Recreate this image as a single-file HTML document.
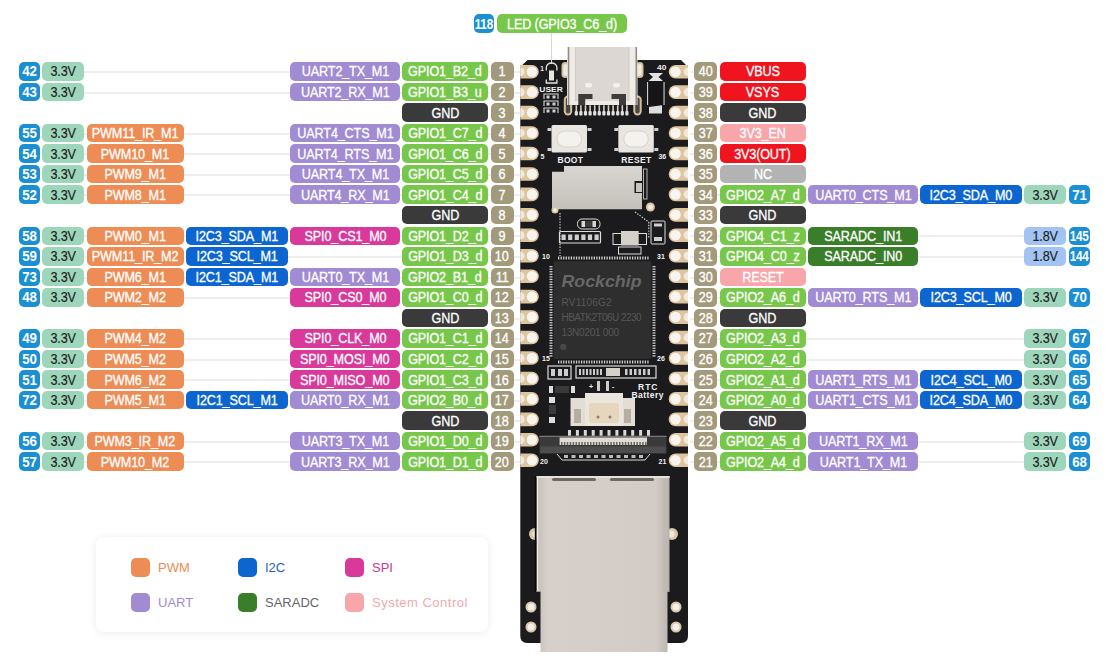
<!DOCTYPE html>
<html><head><meta charset="utf-8"><style>
html,body{margin:0;padding:0;background:#fff;}
body{width:1107px;height:668px;position:relative;overflow:hidden;font-family:"Liberation Sans",sans-serif;}
.b{position:absolute;height:18.5px;border-radius:5px;display:flex;align-items:center;justify-content:center;font-size:14px;white-space:nowrap;letter-spacing:-0.15px;-webkit-text-stroke:0.3px currentColor;}
.b span{display:block;line-height:1;transform:translateY(0px) scaleX(0.9);}
.n{letter-spacing:-0.3px;font-weight:bold;-webkit-text-stroke:0;}
.n span{transform:scaleX(0.84);}
.n2 span{transform:scaleX(0.95);}
.dk{-webkit-text-stroke:0.15px currentColor;}
.ln{position:absolute;height:2px;background:#eeeeee;}
.lg{position:absolute;left:96px;top:537px;width:392px;height:95px;background:#fff;border-radius:8px;box-shadow:0 1px 8px rgba(0,0,0,0.08);}
.sw{position:absolute;width:19px;height:19px;border-radius:5px;}
.lt{position:absolute;font-size:13px;line-height:19px;}
</style></head><body>
<div class="ln" style="left:84px;top:71.15px;width:436.0px"></div>
<div class="b n n2" style="left:19px;top:62.2px;width:21.0px;background:#1a8fd3;color:#fff"><span>42</span></div>
<div class="b  dk" style="left:42px;top:62.2px;width:42.0px;background:#9dd6bb;color:#1d1d1d"><span>3.3V</span></div>
<div class="b " style="left:290px;top:62.2px;width:110.0px;background:#a18bd2;color:#fff"><span>UART2_TX_M1</span></div>
<div class="b " style="left:402px;top:62.2px;width:86.0px;background:#77c84a;color:#fff"><span>GPIO1_B2_d</span></div>
<div class="b p" style="left:490.5px;top:62.2px;width:23.0px;background:#a39a7b;color:#fff"><span>1</span></div>
<div class="ln" style="left:84px;top:91.69px;width:436.0px"></div>
<div class="b n n2" style="left:19px;top:82.74000000000001px;width:21.0px;background:#1a8fd3;color:#fff"><span>43</span></div>
<div class="b  dk" style="left:42px;top:82.74000000000001px;width:42.0px;background:#9dd6bb;color:#1d1d1d"><span>3.3V</span></div>
<div class="b " style="left:290px;top:82.74000000000001px;width:110.0px;background:#a18bd2;color:#fff"><span>UART2_RX_M1</span></div>
<div class="b " style="left:402px;top:82.74000000000001px;width:86.0px;background:#77c84a;color:#fff"><span>GPIO1_B3_u</span></div>
<div class="b p" style="left:490.5px;top:82.74000000000001px;width:23.0px;background:#a39a7b;color:#fff"><span>2</span></div>
<div class="ln" style="left:513.5px;top:112.23px;width:6.5px"></div>
<div class="b " style="left:402px;top:103.28px;width:86.0px;background:#3a3a3a;color:#fff"><span>GND</span></div>
<div class="b p" style="left:490.5px;top:103.28px;width:23.0px;background:#a39a7b;color:#fff"><span>3</span></div>
<div class="ln" style="left:84px;top:132.77px;width:436.0px"></div>
<div class="b n n2" style="left:19px;top:123.82px;width:21.0px;background:#1a8fd3;color:#fff"><span>55</span></div>
<div class="b  dk" style="left:42px;top:123.82px;width:42.0px;background:#9dd6bb;color:#1d1d1d"><span>3.3V</span></div>
<div class="b " style="left:86.5px;top:123.82px;width:97.5px;background:#ee8c55;color:#fff"><span>PWM11_IR_M1</span></div>
<div class="b " style="left:290px;top:123.82px;width:110.0px;background:#a18bd2;color:#fff"><span>UART4_CTS_M1</span></div>
<div class="b " style="left:402px;top:123.82px;width:86.0px;background:#77c84a;color:#fff"><span>GPIO1_C7_d</span></div>
<div class="b p" style="left:490.5px;top:123.82px;width:23.0px;background:#a39a7b;color:#fff"><span>4</span></div>
<div class="ln" style="left:84px;top:153.31px;width:436.0px"></div>
<div class="b n n2" style="left:19px;top:144.36px;width:21.0px;background:#1a8fd3;color:#fff"><span>54</span></div>
<div class="b  dk" style="left:42px;top:144.36px;width:42.0px;background:#9dd6bb;color:#1d1d1d"><span>3.3V</span></div>
<div class="b " style="left:86.5px;top:144.36px;width:97.5px;background:#ee8c55;color:#fff"><span>PWM10_M1</span></div>
<div class="b " style="left:290px;top:144.36px;width:110.0px;background:#a18bd2;color:#fff"><span>UART4_RTS_M1</span></div>
<div class="b " style="left:402px;top:144.36px;width:86.0px;background:#77c84a;color:#fff"><span>GPIO1_C6_d</span></div>
<div class="b p" style="left:490.5px;top:144.36px;width:23.0px;background:#a39a7b;color:#fff"><span>5</span></div>
<div class="ln" style="left:84px;top:173.85px;width:436.0px"></div>
<div class="b n n2" style="left:19px;top:164.89999999999998px;width:21.0px;background:#1a8fd3;color:#fff"><span>53</span></div>
<div class="b  dk" style="left:42px;top:164.89999999999998px;width:42.0px;background:#9dd6bb;color:#1d1d1d"><span>3.3V</span></div>
<div class="b " style="left:86.5px;top:164.89999999999998px;width:97.5px;background:#ee8c55;color:#fff"><span>PWM9_M1</span></div>
<div class="b " style="left:290px;top:164.89999999999998px;width:110.0px;background:#a18bd2;color:#fff"><span>UART4_TX_M1</span></div>
<div class="b " style="left:402px;top:164.89999999999998px;width:86.0px;background:#77c84a;color:#fff"><span>GPIO1_C5_d</span></div>
<div class="b p" style="left:490.5px;top:164.89999999999998px;width:23.0px;background:#a39a7b;color:#fff"><span>6</span></div>
<div class="ln" style="left:84px;top:194.39px;width:436.0px"></div>
<div class="b n n2" style="left:19px;top:185.44px;width:21.0px;background:#1a8fd3;color:#fff"><span>52</span></div>
<div class="b  dk" style="left:42px;top:185.44px;width:42.0px;background:#9dd6bb;color:#1d1d1d"><span>3.3V</span></div>
<div class="b " style="left:86.5px;top:185.44px;width:97.5px;background:#ee8c55;color:#fff"><span>PWM8_M1</span></div>
<div class="b " style="left:290px;top:185.44px;width:110.0px;background:#a18bd2;color:#fff"><span>UART4_RX_M1</span></div>
<div class="b " style="left:402px;top:185.44px;width:86.0px;background:#77c84a;color:#fff"><span>GPIO1_C4_d</span></div>
<div class="b p" style="left:490.5px;top:185.44px;width:23.0px;background:#a39a7b;color:#fff"><span>7</span></div>
<div class="ln" style="left:513.5px;top:214.93px;width:6.5px"></div>
<div class="b " style="left:402px;top:205.98000000000002px;width:86.0px;background:#3a3a3a;color:#fff"><span>GND</span></div>
<div class="b p" style="left:490.5px;top:205.98000000000002px;width:23.0px;background:#a39a7b;color:#fff"><span>8</span></div>
<div class="ln" style="left:84px;top:235.47px;width:436.0px"></div>
<div class="b n n2" style="left:19px;top:226.51999999999998px;width:21.0px;background:#1a8fd3;color:#fff"><span>58</span></div>
<div class="b  dk" style="left:42px;top:226.51999999999998px;width:42.0px;background:#9dd6bb;color:#1d1d1d"><span>3.3V</span></div>
<div class="b " style="left:86.5px;top:226.51999999999998px;width:97.5px;background:#ee8c55;color:#fff"><span>PWM0_M1</span></div>
<div class="b " style="left:186px;top:226.51999999999998px;width:102.0px;background:#0d66d0;color:#fff"><span>I2C3_SDA_M1</span></div>
<div class="b " style="left:290px;top:226.51999999999998px;width:110.0px;background:#d8399a;color:#fff"><span>SPI0_CS1_M0</span></div>
<div class="b " style="left:402px;top:226.51999999999998px;width:86.0px;background:#77c84a;color:#fff"><span>GPIO1_D2_d</span></div>
<div class="b p" style="left:490.5px;top:226.51999999999998px;width:23.0px;background:#a39a7b;color:#fff"><span>9</span></div>
<div class="ln" style="left:84px;top:256.01px;width:436.0px"></div>
<div class="b n n2" style="left:19px;top:247.06px;width:21.0px;background:#1a8fd3;color:#fff"><span>59</span></div>
<div class="b  dk" style="left:42px;top:247.06px;width:42.0px;background:#9dd6bb;color:#1d1d1d"><span>3.3V</span></div>
<div class="b " style="left:86.5px;top:247.06px;width:97.5px;background:#ee8c55;color:#fff"><span>PWM11_IR_M2</span></div>
<div class="b " style="left:186px;top:247.06px;width:102.0px;background:#0d66d0;color:#fff"><span>I2C3_SCL_M1</span></div>
<div class="b " style="left:402px;top:247.06px;width:86.0px;background:#77c84a;color:#fff"><span>GPIO1_D3_d</span></div>
<div class="b p" style="left:490.5px;top:247.06px;width:23.0px;background:#a39a7b;color:#fff"><span>10</span></div>
<div class="ln" style="left:84px;top:276.55px;width:436.0px"></div>
<div class="b n n2" style="left:19px;top:267.59999999999997px;width:21.0px;background:#1a8fd3;color:#fff"><span>73</span></div>
<div class="b  dk" style="left:42px;top:267.59999999999997px;width:42.0px;background:#9dd6bb;color:#1d1d1d"><span>3.3V</span></div>
<div class="b " style="left:86.5px;top:267.59999999999997px;width:97.5px;background:#ee8c55;color:#fff"><span>PWM6_M1</span></div>
<div class="b " style="left:186px;top:267.59999999999997px;width:102.0px;background:#0d66d0;color:#fff"><span>I2C1_SDA_M1</span></div>
<div class="b " style="left:290px;top:267.59999999999997px;width:110.0px;background:#a18bd2;color:#fff"><span>UART0_TX_M1</span></div>
<div class="b " style="left:402px;top:267.59999999999997px;width:86.0px;background:#77c84a;color:#fff"><span>GPIO2_B1_d</span></div>
<div class="b p" style="left:490.5px;top:267.59999999999997px;width:23.0px;background:#a39a7b;color:#fff"><span>11</span></div>
<div class="ln" style="left:84px;top:297.09px;width:436.0px"></div>
<div class="b n n2" style="left:19px;top:288.14px;width:21.0px;background:#1a8fd3;color:#fff"><span>48</span></div>
<div class="b  dk" style="left:42px;top:288.14px;width:42.0px;background:#9dd6bb;color:#1d1d1d"><span>3.3V</span></div>
<div class="b " style="left:86.5px;top:288.14px;width:97.5px;background:#ee8c55;color:#fff"><span>PWM2_M2</span></div>
<div class="b " style="left:290px;top:288.14px;width:110.0px;background:#d8399a;color:#fff"><span>SPI0_CS0_M0</span></div>
<div class="b " style="left:402px;top:288.14px;width:86.0px;background:#77c84a;color:#fff"><span>GPIO1_C0_d</span></div>
<div class="b p" style="left:490.5px;top:288.14px;width:23.0px;background:#a39a7b;color:#fff"><span>12</span></div>
<div class="ln" style="left:513.5px;top:317.63px;width:6.5px"></div>
<div class="b " style="left:402px;top:308.68px;width:86.0px;background:#3a3a3a;color:#fff"><span>GND</span></div>
<div class="b p" style="left:490.5px;top:308.68px;width:23.0px;background:#a39a7b;color:#fff"><span>13</span></div>
<div class="ln" style="left:84px;top:338.17px;width:436.0px"></div>
<div class="b n n2" style="left:19px;top:329.21999999999997px;width:21.0px;background:#1a8fd3;color:#fff"><span>49</span></div>
<div class="b  dk" style="left:42px;top:329.21999999999997px;width:42.0px;background:#9dd6bb;color:#1d1d1d"><span>3.3V</span></div>
<div class="b " style="left:86.5px;top:329.21999999999997px;width:97.5px;background:#ee8c55;color:#fff"><span>PWM4_M2</span></div>
<div class="b " style="left:290px;top:329.21999999999997px;width:110.0px;background:#d8399a;color:#fff"><span>SPI0_CLK_M0</span></div>
<div class="b " style="left:402px;top:329.21999999999997px;width:86.0px;background:#77c84a;color:#fff"><span>GPIO1_C1_d</span></div>
<div class="b p" style="left:490.5px;top:329.21999999999997px;width:23.0px;background:#a39a7b;color:#fff"><span>14</span></div>
<div class="ln" style="left:84px;top:358.71px;width:436.0px"></div>
<div class="b n n2" style="left:19px;top:349.76px;width:21.0px;background:#1a8fd3;color:#fff"><span>50</span></div>
<div class="b  dk" style="left:42px;top:349.76px;width:42.0px;background:#9dd6bb;color:#1d1d1d"><span>3.3V</span></div>
<div class="b " style="left:86.5px;top:349.76px;width:97.5px;background:#ee8c55;color:#fff"><span>PWM5_M2</span></div>
<div class="b " style="left:290px;top:349.76px;width:110.0px;background:#d8399a;color:#fff"><span>SPI0_MOSI_M0</span></div>
<div class="b " style="left:402px;top:349.76px;width:86.0px;background:#77c84a;color:#fff"><span>GPIO1_C2_d</span></div>
<div class="b p" style="left:490.5px;top:349.76px;width:23.0px;background:#a39a7b;color:#fff"><span>15</span></div>
<div class="ln" style="left:84px;top:379.25px;width:436.0px"></div>
<div class="b n n2" style="left:19px;top:370.29999999999995px;width:21.0px;background:#1a8fd3;color:#fff"><span>51</span></div>
<div class="b  dk" style="left:42px;top:370.29999999999995px;width:42.0px;background:#9dd6bb;color:#1d1d1d"><span>3.3V</span></div>
<div class="b " style="left:86.5px;top:370.29999999999995px;width:97.5px;background:#ee8c55;color:#fff"><span>PWM6_M2</span></div>
<div class="b " style="left:290px;top:370.29999999999995px;width:110.0px;background:#d8399a;color:#fff"><span>SPI0_MISO_M0</span></div>
<div class="b " style="left:402px;top:370.29999999999995px;width:86.0px;background:#77c84a;color:#fff"><span>GPIO1_C3_d</span></div>
<div class="b p" style="left:490.5px;top:370.29999999999995px;width:23.0px;background:#a39a7b;color:#fff"><span>16</span></div>
<div class="ln" style="left:84px;top:399.79px;width:436.0px"></div>
<div class="b n n2" style="left:19px;top:390.84px;width:21.0px;background:#1a8fd3;color:#fff"><span>72</span></div>
<div class="b  dk" style="left:42px;top:390.84px;width:42.0px;background:#9dd6bb;color:#1d1d1d"><span>3.3V</span></div>
<div class="b " style="left:86.5px;top:390.84px;width:97.5px;background:#ee8c55;color:#fff"><span>PWM5_M1</span></div>
<div class="b " style="left:186px;top:390.84px;width:102.0px;background:#0d66d0;color:#fff"><span>I2C1_SCL_M1</span></div>
<div class="b " style="left:290px;top:390.84px;width:110.0px;background:#a18bd2;color:#fff"><span>UART0_RX_M1</span></div>
<div class="b " style="left:402px;top:390.84px;width:86.0px;background:#77c84a;color:#fff"><span>GPIO2_B0_d</span></div>
<div class="b p" style="left:490.5px;top:390.84px;width:23.0px;background:#a39a7b;color:#fff"><span>17</span></div>
<div class="ln" style="left:513.5px;top:420.33px;width:6.5px"></div>
<div class="b " style="left:402px;top:411.38px;width:86.0px;background:#3a3a3a;color:#fff"><span>GND</span></div>
<div class="b p" style="left:490.5px;top:411.38px;width:23.0px;background:#a39a7b;color:#fff"><span>18</span></div>
<div class="ln" style="left:84px;top:440.87px;width:436.0px"></div>
<div class="b n n2" style="left:19px;top:431.91999999999996px;width:21.0px;background:#1a8fd3;color:#fff"><span>56</span></div>
<div class="b  dk" style="left:42px;top:431.91999999999996px;width:42.0px;background:#9dd6bb;color:#1d1d1d"><span>3.3V</span></div>
<div class="b " style="left:86.5px;top:431.91999999999996px;width:97.5px;background:#ee8c55;color:#fff"><span>PWM3_IR_M2</span></div>
<div class="b " style="left:290px;top:431.91999999999996px;width:110.0px;background:#a18bd2;color:#fff"><span>UART3_TX_M1</span></div>
<div class="b " style="left:402px;top:431.91999999999996px;width:86.0px;background:#77c84a;color:#fff"><span>GPIO1_D0_d</span></div>
<div class="b p" style="left:490.5px;top:431.91999999999996px;width:23.0px;background:#a39a7b;color:#fff"><span>19</span></div>
<div class="ln" style="left:84px;top:461.41px;width:436.0px"></div>
<div class="b n n2" style="left:19px;top:452.46px;width:21.0px;background:#1a8fd3;color:#fff"><span>57</span></div>
<div class="b  dk" style="left:42px;top:452.46px;width:42.0px;background:#9dd6bb;color:#1d1d1d"><span>3.3V</span></div>
<div class="b " style="left:86.5px;top:452.46px;width:97.5px;background:#ee8c55;color:#fff"><span>PWM10_M2</span></div>
<div class="b " style="left:290px;top:452.46px;width:110.0px;background:#a18bd2;color:#fff"><span>UART3_RX_M1</span></div>
<div class="b " style="left:402px;top:452.46px;width:86.0px;background:#77c84a;color:#fff"><span>GPIO1_D1_d</span></div>
<div class="b p" style="left:490.5px;top:452.46px;width:23.0px;background:#a39a7b;color:#fff"><span>20</span></div>
<div class="ln" style="left:690px;top:71.15px;width:4.0px"></div>
<div class="b p" style="left:694px;top:62.2px;width:23.0px;background:#a39a7b;color:#fff"><span>40</span></div>
<div class="b " style="left:719.5px;top:62.2px;width:86.5px;background:#f0141e;color:#fff"><span>VBUS</span></div>
<div class="ln" style="left:690px;top:91.69px;width:4.0px"></div>
<div class="b p" style="left:694px;top:82.74000000000001px;width:23.0px;background:#a39a7b;color:#fff"><span>39</span></div>
<div class="b " style="left:719.5px;top:82.74000000000001px;width:86.5px;background:#f0141e;color:#fff"><span>VSYS</span></div>
<div class="ln" style="left:690px;top:112.23px;width:4.0px"></div>
<div class="b p" style="left:694px;top:103.28px;width:23.0px;background:#a39a7b;color:#fff"><span>38</span></div>
<div class="b " style="left:719.5px;top:103.28px;width:86.5px;background:#3a3a3a;color:#fff"><span>GND</span></div>
<div class="ln" style="left:690px;top:132.77px;width:4.0px"></div>
<div class="b p" style="left:694px;top:123.82px;width:23.0px;background:#a39a7b;color:#fff"><span>37</span></div>
<div class="b " style="left:719.5px;top:123.82px;width:86.5px;background:#f9a6ab;color:#fff"><span>3V3_EN</span></div>
<div class="ln" style="left:690px;top:153.31px;width:4.0px"></div>
<div class="b p" style="left:694px;top:144.36px;width:23.0px;background:#a39a7b;color:#fff"><span>36</span></div>
<div class="b " style="left:719.5px;top:144.36px;width:86.5px;background:#f0141e;color:#fff"><span>3V3(OUT)</span></div>
<div class="ln" style="left:690px;top:173.85px;width:4.0px"></div>
<div class="b p" style="left:694px;top:164.89999999999998px;width:23.0px;background:#a39a7b;color:#fff"><span>35</span></div>
<div class="b " style="left:719.5px;top:164.89999999999998px;width:86.5px;background:#b3b3b3;color:#fff"><span>NC</span></div>
<div class="ln" style="left:690px;top:194.39px;width:334.3px"></div>
<div class="b p" style="left:694px;top:185.44px;width:23.0px;background:#a39a7b;color:#fff"><span>34</span></div>
<div class="b " style="left:719.5px;top:185.44px;width:86.5px;background:#77c84a;color:#fff"><span>GPIO2_A7_d</span></div>
<div class="b " style="left:808px;top:185.44px;width:110.0px;background:#a18bd2;color:#fff"><span>UART0_CTS_M1</span></div>
<div class="b " style="left:919.5px;top:185.44px;width:102.5px;background:#0d66d0;color:#fff"><span>I2C3_SDA_M0</span></div>
<div class="b  dk" style="left:1024.3px;top:185.44px;width:42.1px;background:#9dd6bb;color:#1d1d1d"><span>3.3V</span></div>
<div class="b n n2" style="left:1069px;top:185.44px;width:21.0px;background:#1a8fd3;color:#fff"><span>71</span></div>
<div class="ln" style="left:690px;top:214.93px;width:4.0px"></div>
<div class="b p" style="left:694px;top:205.98000000000002px;width:23.0px;background:#a39a7b;color:#fff"><span>33</span></div>
<div class="b " style="left:719.5px;top:205.98000000000002px;width:86.5px;background:#3a3a3a;color:#fff"><span>GND</span></div>
<div class="ln" style="left:690px;top:235.47px;width:334.3px"></div>
<div class="b p" style="left:694px;top:226.51999999999998px;width:23.0px;background:#a39a7b;color:#fff"><span>32</span></div>
<div class="b " style="left:719.5px;top:226.51999999999998px;width:86.5px;background:#77c84a;color:#fff"><span>GPIO4_C1_z</span></div>
<div class="b " style="left:808px;top:226.51999999999998px;width:110.0px;background:#3b7e2a;color:#fff"><span>SARADC_IN1</span></div>
<div class="b  dk" style="left:1024.3px;top:226.51999999999998px;width:42.1px;background:#a3c3f2;color:#1d1d1d"><span>1.8V</span></div>
<div class="b n" style="left:1069px;top:226.51999999999998px;width:21.0px;background:#1a8fd3;color:#fff"><span>145</span></div>
<div class="ln" style="left:690px;top:256.01px;width:334.3px"></div>
<div class="b p" style="left:694px;top:247.06px;width:23.0px;background:#a39a7b;color:#fff"><span>31</span></div>
<div class="b " style="left:719.5px;top:247.06px;width:86.5px;background:#77c84a;color:#fff"><span>GPIO4_C0_z</span></div>
<div class="b " style="left:808px;top:247.06px;width:110.0px;background:#3b7e2a;color:#fff"><span>SARADC_IN0</span></div>
<div class="b  dk" style="left:1024.3px;top:247.06px;width:42.1px;background:#a3c3f2;color:#1d1d1d"><span>1.8V</span></div>
<div class="b n" style="left:1069px;top:247.06px;width:21.0px;background:#1a8fd3;color:#fff"><span>144</span></div>
<div class="ln" style="left:690px;top:276.55px;width:4.0px"></div>
<div class="b p" style="left:694px;top:267.59999999999997px;width:23.0px;background:#a39a7b;color:#fff"><span>30</span></div>
<div class="b " style="left:719.5px;top:267.59999999999997px;width:86.5px;background:#f9a6ab;color:#fff"><span>RESET</span></div>
<div class="ln" style="left:690px;top:297.09px;width:334.3px"></div>
<div class="b p" style="left:694px;top:288.14px;width:23.0px;background:#a39a7b;color:#fff"><span>29</span></div>
<div class="b " style="left:719.5px;top:288.14px;width:86.5px;background:#77c84a;color:#fff"><span>GPIO2_A6_d</span></div>
<div class="b " style="left:808px;top:288.14px;width:110.0px;background:#a18bd2;color:#fff"><span>UART0_RTS_M1</span></div>
<div class="b " style="left:919.5px;top:288.14px;width:102.5px;background:#0d66d0;color:#fff"><span>I2C3_SCL_M0</span></div>
<div class="b  dk" style="left:1024.3px;top:288.14px;width:42.1px;background:#9dd6bb;color:#1d1d1d"><span>3.3V</span></div>
<div class="b n n2" style="left:1069px;top:288.14px;width:21.0px;background:#1a8fd3;color:#fff"><span>70</span></div>
<div class="ln" style="left:690px;top:317.63px;width:4.0px"></div>
<div class="b p" style="left:694px;top:308.68px;width:23.0px;background:#a39a7b;color:#fff"><span>28</span></div>
<div class="b " style="left:719.5px;top:308.68px;width:86.5px;background:#3a3a3a;color:#fff"><span>GND</span></div>
<div class="ln" style="left:690px;top:338.17px;width:334.3px"></div>
<div class="b p" style="left:694px;top:329.21999999999997px;width:23.0px;background:#a39a7b;color:#fff"><span>27</span></div>
<div class="b " style="left:719.5px;top:329.21999999999997px;width:86.5px;background:#77c84a;color:#fff"><span>GPIO2_A3_d</span></div>
<div class="b  dk" style="left:1024.3px;top:329.21999999999997px;width:42.1px;background:#9dd6bb;color:#1d1d1d"><span>3.3V</span></div>
<div class="b n n2" style="left:1069px;top:329.21999999999997px;width:21.0px;background:#1a8fd3;color:#fff"><span>67</span></div>
<div class="ln" style="left:690px;top:358.71px;width:334.3px"></div>
<div class="b p" style="left:694px;top:349.76px;width:23.0px;background:#a39a7b;color:#fff"><span>26</span></div>
<div class="b " style="left:719.5px;top:349.76px;width:86.5px;background:#77c84a;color:#fff"><span>GPIO2_A2_d</span></div>
<div class="b  dk" style="left:1024.3px;top:349.76px;width:42.1px;background:#9dd6bb;color:#1d1d1d"><span>3.3V</span></div>
<div class="b n n2" style="left:1069px;top:349.76px;width:21.0px;background:#1a8fd3;color:#fff"><span>66</span></div>
<div class="ln" style="left:690px;top:379.25px;width:334.3px"></div>
<div class="b p" style="left:694px;top:370.29999999999995px;width:23.0px;background:#a39a7b;color:#fff"><span>25</span></div>
<div class="b " style="left:719.5px;top:370.29999999999995px;width:86.5px;background:#77c84a;color:#fff"><span>GPIO2_A1_d</span></div>
<div class="b " style="left:808px;top:370.29999999999995px;width:110.0px;background:#a18bd2;color:#fff"><span>UART1_RTS_M1</span></div>
<div class="b " style="left:919.5px;top:370.29999999999995px;width:102.5px;background:#0d66d0;color:#fff"><span>I2C4_SCL_M0</span></div>
<div class="b  dk" style="left:1024.3px;top:370.29999999999995px;width:42.1px;background:#9dd6bb;color:#1d1d1d"><span>3.3V</span></div>
<div class="b n n2" style="left:1069px;top:370.29999999999995px;width:21.0px;background:#1a8fd3;color:#fff"><span>65</span></div>
<div class="ln" style="left:690px;top:399.79px;width:334.3px"></div>
<div class="b p" style="left:694px;top:390.84px;width:23.0px;background:#a39a7b;color:#fff"><span>24</span></div>
<div class="b " style="left:719.5px;top:390.84px;width:86.5px;background:#77c84a;color:#fff"><span>GPIO2_A0_d</span></div>
<div class="b " style="left:808px;top:390.84px;width:110.0px;background:#a18bd2;color:#fff"><span>UART1_CTS_M1</span></div>
<div class="b " style="left:919.5px;top:390.84px;width:102.5px;background:#0d66d0;color:#fff"><span>I2C4_SDA_M0</span></div>
<div class="b  dk" style="left:1024.3px;top:390.84px;width:42.1px;background:#9dd6bb;color:#1d1d1d"><span>3.3V</span></div>
<div class="b n n2" style="left:1069px;top:390.84px;width:21.0px;background:#1a8fd3;color:#fff"><span>64</span></div>
<div class="ln" style="left:690px;top:420.33px;width:4.0px"></div>
<div class="b p" style="left:694px;top:411.38px;width:23.0px;background:#a39a7b;color:#fff"><span>23</span></div>
<div class="b " style="left:719.5px;top:411.38px;width:86.5px;background:#3a3a3a;color:#fff"><span>GND</span></div>
<div class="ln" style="left:690px;top:440.87px;width:334.3px"></div>
<div class="b p" style="left:694px;top:431.91999999999996px;width:23.0px;background:#a39a7b;color:#fff"><span>22</span></div>
<div class="b " style="left:719.5px;top:431.91999999999996px;width:86.5px;background:#77c84a;color:#fff"><span>GPIO2_A5_d</span></div>
<div class="b " style="left:808px;top:431.91999999999996px;width:110.0px;background:#a18bd2;color:#fff"><span>UART1_RX_M1</span></div>
<div class="b  dk" style="left:1024.3px;top:431.91999999999996px;width:42.1px;background:#9dd6bb;color:#1d1d1d"><span>3.3V</span></div>
<div class="b n n2" style="left:1069px;top:431.91999999999996px;width:21.0px;background:#1a8fd3;color:#fff"><span>69</span></div>
<div class="ln" style="left:690px;top:461.41px;width:334.3px"></div>
<div class="b p" style="left:694px;top:452.46px;width:23.0px;background:#a39a7b;color:#fff"><span>21</span></div>
<div class="b " style="left:719.5px;top:452.46px;width:86.5px;background:#77c84a;color:#fff"><span>GPIO2_A4_d</span></div>
<div class="b " style="left:808px;top:452.46px;width:110.0px;background:#a18bd2;color:#fff"><span>UART1_TX_M1</span></div>
<div class="b  dk" style="left:1024.3px;top:452.46px;width:42.1px;background:#9dd6bb;color:#1d1d1d"><span>3.3V</span></div>
<div class="b n n2" style="left:1069px;top:452.46px;width:21.0px;background:#1a8fd3;color:#fff"><span>68</span></div>
<div class="ln" style="left:551px;top:33px;width:1px;height:42px;background:#d8d8d8"></div>
<div class="b n" style="left:473.7px;top:14.4px;width:20.6px;background:#1a8fd3;color:#fff"><span>118</span></div>
<div class="b" style="left:497px;top:14.4px;width:130.4px;background:#77c84a;color:#fff"><span>LED (GPIO3_C6_d)</span></div>
<svg style="position:absolute;left:0;top:0" width="1107" height="668" viewBox="0 0 1107 668">
<defs><linearGradient id="eth" x1="0" y1="0" x2="1" y2="0"><stop offset="0" stop-color="#c4beb9"/><stop offset="0.08" stop-color="#d6cfca"/><stop offset="0.9" stop-color="#d3cbc6"/><stop offset="1" stop-color="#b9b2ad"/></linearGradient><linearGradient id="sd" x1="0" y1="0" x2="0" y2="1"><stop offset="0" stop-color="#d9d5d0"/><stop offset="1" stop-color="#c4c0ba"/></linearGradient><linearGradient id="usb" x1="0" y1="0" x2="1" y2="0"><stop offset="0" stop-color="#b8b4b0"/><stop offset="0.1" stop-color="#e6e3df"/><stop offset="0.9" stop-color="#e3e0dc"/><stop offset="1" stop-color="#a9a5a1"/></linearGradient></defs>
<path d="M527.5,60 H681 L688,67 V636 Q688,643 681,643 H527.3 Q520.3,643 520.3,636 V67 Z" fill="#1b1a1d"/>
<path d="M520.3,64.90 H532 A6.8,6.8 0 0 1 532,78.50 H520.3 Z" fill="#dcc59f"/>
<circle cx="532" cy="71.70" r="5.3" fill="#f8f4ee"/>
<path d="M520.3,67.40 A4.3,4.3 0 0 1 520.3,76.00 Z" fill="#f1e9dc"/>
<path d="M688,64.90 H675.5 A6.8,6.8 0 0 0 675.5,78.50 H688 Z" fill="#dcc59f"/>
<circle cx="675.5" cy="71.70" r="5.3" fill="#f8f4ee"/>
<path d="M688,67.40 A4.3,4.3 0 0 0 688,76.00 Z" fill="#f1e9dc"/>
<path d="M520.3,85.35 H532 A6.8,6.8 0 0 1 532,98.95 H520.3 Z" fill="#dcc59f"/>
<circle cx="532" cy="92.15" r="5.3" fill="#f8f4ee"/>
<path d="M520.3,87.85 A4.3,4.3 0 0 1 520.3,96.45 Z" fill="#f1e9dc"/>
<path d="M688,85.35 H675.5 A6.8,6.8 0 0 0 675.5,98.95 H688 Z" fill="#dcc59f"/>
<circle cx="675.5" cy="92.15" r="5.3" fill="#f8f4ee"/>
<path d="M688,87.85 A4.3,4.3 0 0 0 688,96.45 Z" fill="#f1e9dc"/>
<path d="M520.3,105.80 H532 A6.8,6.8 0 0 1 532,119.40 H520.3 Z" fill="#dcc59f"/>
<circle cx="532" cy="112.60" r="5.3" fill="#f8f4ee"/>
<path d="M520.3,108.30 A4.3,4.3 0 0 1 520.3,116.90 Z" fill="#f1e9dc"/>
<path d="M688,105.80 H675.5 A6.8,6.8 0 0 0 675.5,119.40 H688 Z" fill="#dcc59f"/>
<circle cx="675.5" cy="112.60" r="5.3" fill="#f8f4ee"/>
<path d="M688,108.30 A4.3,4.3 0 0 0 688,116.90 Z" fill="#f1e9dc"/>
<path d="M520.3,126.25 H532 A6.8,6.8 0 0 1 532,139.85 H520.3 Z" fill="#dcc59f"/>
<circle cx="532" cy="133.05" r="5.3" fill="#f8f4ee"/>
<path d="M520.3,128.75 A4.3,4.3 0 0 1 520.3,137.35 Z" fill="#f1e9dc"/>
<path d="M688,126.25 H675.5 A6.8,6.8 0 0 0 675.5,139.85 H688 Z" fill="#dcc59f"/>
<circle cx="675.5" cy="133.05" r="5.3" fill="#f8f4ee"/>
<path d="M688,128.75 A4.3,4.3 0 0 0 688,137.35 Z" fill="#f1e9dc"/>
<path d="M520.3,146.70 H532 A6.8,6.8 0 0 1 532,160.30 H520.3 Z" fill="#dcc59f"/>
<circle cx="532" cy="153.50" r="5.3" fill="#f8f4ee"/>
<path d="M520.3,149.20 A4.3,4.3 0 0 1 520.3,157.80 Z" fill="#f1e9dc"/>
<path d="M688,146.70 H675.5 A6.8,6.8 0 0 0 675.5,160.30 H688 Z" fill="#dcc59f"/>
<circle cx="675.5" cy="153.50" r="5.3" fill="#f8f4ee"/>
<path d="M688,149.20 A4.3,4.3 0 0 0 688,157.80 Z" fill="#f1e9dc"/>
<path d="M520.3,167.15 H532 A6.8,6.8 0 0 1 532,180.75 H520.3 Z" fill="#dcc59f"/>
<circle cx="532" cy="173.95" r="5.3" fill="#f8f4ee"/>
<path d="M520.3,169.65 A4.3,4.3 0 0 1 520.3,178.25 Z" fill="#f1e9dc"/>
<path d="M688,167.15 H675.5 A6.8,6.8 0 0 0 675.5,180.75 H688 Z" fill="#dcc59f"/>
<circle cx="675.5" cy="173.95" r="5.3" fill="#f8f4ee"/>
<path d="M688,169.65 A4.3,4.3 0 0 0 688,178.25 Z" fill="#f1e9dc"/>
<path d="M520.3,187.60 H532 A6.8,6.8 0 0 1 532,201.20 H520.3 Z" fill="#dcc59f"/>
<circle cx="532" cy="194.40" r="5.3" fill="#f8f4ee"/>
<path d="M520.3,190.10 A4.3,4.3 0 0 1 520.3,198.70 Z" fill="#f1e9dc"/>
<path d="M688,187.60 H675.5 A6.8,6.8 0 0 0 675.5,201.20 H688 Z" fill="#dcc59f"/>
<circle cx="675.5" cy="194.40" r="5.3" fill="#f8f4ee"/>
<path d="M688,190.10 A4.3,4.3 0 0 0 688,198.70 Z" fill="#f1e9dc"/>
<path d="M520.3,208.05 H532 A6.8,6.8 0 0 1 532,221.65 H520.3 Z" fill="#dcc59f"/>
<circle cx="532" cy="214.85" r="5.3" fill="#f8f4ee"/>
<path d="M520.3,210.55 A4.3,4.3 0 0 1 520.3,219.15 Z" fill="#f1e9dc"/>
<path d="M688,208.05 H675.5 A6.8,6.8 0 0 0 675.5,221.65 H688 Z" fill="#dcc59f"/>
<circle cx="675.5" cy="214.85" r="5.3" fill="#f8f4ee"/>
<path d="M688,210.55 A4.3,4.3 0 0 0 688,219.15 Z" fill="#f1e9dc"/>
<path d="M520.3,228.50 H532 A6.8,6.8 0 0 1 532,242.10 H520.3 Z" fill="#dcc59f"/>
<circle cx="532" cy="235.30" r="5.3" fill="#f8f4ee"/>
<path d="M520.3,231.00 A4.3,4.3 0 0 1 520.3,239.60 Z" fill="#f1e9dc"/>
<path d="M688,228.50 H675.5 A6.8,6.8 0 0 0 675.5,242.10 H688 Z" fill="#dcc59f"/>
<circle cx="675.5" cy="235.30" r="5.3" fill="#f8f4ee"/>
<path d="M688,231.00 A4.3,4.3 0 0 0 688,239.60 Z" fill="#f1e9dc"/>
<path d="M520.3,248.95 H532 A6.8,6.8 0 0 1 532,262.55 H520.3 Z" fill="#dcc59f"/>
<circle cx="532" cy="255.75" r="5.3" fill="#f8f4ee"/>
<path d="M520.3,251.45 A4.3,4.3 0 0 1 520.3,260.05 Z" fill="#f1e9dc"/>
<path d="M688,248.95 H675.5 A6.8,6.8 0 0 0 675.5,262.55 H688 Z" fill="#dcc59f"/>
<circle cx="675.5" cy="255.75" r="5.3" fill="#f8f4ee"/>
<path d="M688,251.45 A4.3,4.3 0 0 0 688,260.05 Z" fill="#f1e9dc"/>
<path d="M520.3,269.40 H532 A6.8,6.8 0 0 1 532,283.00 H520.3 Z" fill="#dcc59f"/>
<circle cx="532" cy="276.20" r="5.3" fill="#f8f4ee"/>
<path d="M520.3,271.90 A4.3,4.3 0 0 1 520.3,280.50 Z" fill="#f1e9dc"/>
<path d="M688,269.40 H675.5 A6.8,6.8 0 0 0 675.5,283.00 H688 Z" fill="#dcc59f"/>
<circle cx="675.5" cy="276.20" r="5.3" fill="#f8f4ee"/>
<path d="M688,271.90 A4.3,4.3 0 0 0 688,280.50 Z" fill="#f1e9dc"/>
<path d="M520.3,289.85 H532 A6.8,6.8 0 0 1 532,303.45 H520.3 Z" fill="#dcc59f"/>
<circle cx="532" cy="296.65" r="5.3" fill="#f8f4ee"/>
<path d="M520.3,292.35 A4.3,4.3 0 0 1 520.3,300.95 Z" fill="#f1e9dc"/>
<path d="M688,289.85 H675.5 A6.8,6.8 0 0 0 675.5,303.45 H688 Z" fill="#dcc59f"/>
<circle cx="675.5" cy="296.65" r="5.3" fill="#f8f4ee"/>
<path d="M688,292.35 A4.3,4.3 0 0 0 688,300.95 Z" fill="#f1e9dc"/>
<path d="M520.3,310.30 H532 A6.8,6.8 0 0 1 532,323.90 H520.3 Z" fill="#dcc59f"/>
<circle cx="532" cy="317.10" r="5.3" fill="#f8f4ee"/>
<path d="M520.3,312.80 A4.3,4.3 0 0 1 520.3,321.40 Z" fill="#f1e9dc"/>
<path d="M688,310.30 H675.5 A6.8,6.8 0 0 0 675.5,323.90 H688 Z" fill="#dcc59f"/>
<circle cx="675.5" cy="317.10" r="5.3" fill="#f8f4ee"/>
<path d="M688,312.80 A4.3,4.3 0 0 0 688,321.40 Z" fill="#f1e9dc"/>
<path d="M520.3,330.75 H532 A6.8,6.8 0 0 1 532,344.35 H520.3 Z" fill="#dcc59f"/>
<circle cx="532" cy="337.55" r="5.3" fill="#f8f4ee"/>
<path d="M520.3,333.25 A4.3,4.3 0 0 1 520.3,341.85 Z" fill="#f1e9dc"/>
<path d="M688,330.75 H675.5 A6.8,6.8 0 0 0 675.5,344.35 H688 Z" fill="#dcc59f"/>
<circle cx="675.5" cy="337.55" r="5.3" fill="#f8f4ee"/>
<path d="M688,333.25 A4.3,4.3 0 0 0 688,341.85 Z" fill="#f1e9dc"/>
<path d="M520.3,351.20 H532 A6.8,6.8 0 0 1 532,364.80 H520.3 Z" fill="#dcc59f"/>
<circle cx="532" cy="358.00" r="5.3" fill="#f8f4ee"/>
<path d="M520.3,353.70 A4.3,4.3 0 0 1 520.3,362.30 Z" fill="#f1e9dc"/>
<path d="M688,351.20 H675.5 A6.8,6.8 0 0 0 675.5,364.80 H688 Z" fill="#dcc59f"/>
<circle cx="675.5" cy="358.00" r="5.3" fill="#f8f4ee"/>
<path d="M688,353.70 A4.3,4.3 0 0 0 688,362.30 Z" fill="#f1e9dc"/>
<path d="M520.3,371.65 H532 A6.8,6.8 0 0 1 532,385.25 H520.3 Z" fill="#dcc59f"/>
<circle cx="532" cy="378.45" r="5.3" fill="#f8f4ee"/>
<path d="M520.3,374.15 A4.3,4.3 0 0 1 520.3,382.75 Z" fill="#f1e9dc"/>
<path d="M688,371.65 H675.5 A6.8,6.8 0 0 0 675.5,385.25 H688 Z" fill="#dcc59f"/>
<circle cx="675.5" cy="378.45" r="5.3" fill="#f8f4ee"/>
<path d="M688,374.15 A4.3,4.3 0 0 0 688,382.75 Z" fill="#f1e9dc"/>
<path d="M520.3,392.10 H532 A6.8,6.8 0 0 1 532,405.70 H520.3 Z" fill="#dcc59f"/>
<circle cx="532" cy="398.90" r="5.3" fill="#f8f4ee"/>
<path d="M520.3,394.60 A4.3,4.3 0 0 1 520.3,403.20 Z" fill="#f1e9dc"/>
<path d="M688,392.10 H675.5 A6.8,6.8 0 0 0 675.5,405.70 H688 Z" fill="#dcc59f"/>
<circle cx="675.5" cy="398.90" r="5.3" fill="#f8f4ee"/>
<path d="M688,394.60 A4.3,4.3 0 0 0 688,403.20 Z" fill="#f1e9dc"/>
<path d="M520.3,412.55 H532 A6.8,6.8 0 0 1 532,426.15 H520.3 Z" fill="#dcc59f"/>
<circle cx="532" cy="419.35" r="5.3" fill="#f8f4ee"/>
<path d="M520.3,415.05 A4.3,4.3 0 0 1 520.3,423.65 Z" fill="#f1e9dc"/>
<path d="M688,412.55 H675.5 A6.8,6.8 0 0 0 675.5,426.15 H688 Z" fill="#dcc59f"/>
<circle cx="675.5" cy="419.35" r="5.3" fill="#f8f4ee"/>
<path d="M688,415.05 A4.3,4.3 0 0 0 688,423.65 Z" fill="#f1e9dc"/>
<path d="M520.3,433.00 H532 A6.8,6.8 0 0 1 532,446.60 H520.3 Z" fill="#dcc59f"/>
<circle cx="532" cy="439.80" r="5.3" fill="#f8f4ee"/>
<path d="M520.3,435.50 A4.3,4.3 0 0 1 520.3,444.10 Z" fill="#f1e9dc"/>
<path d="M688,433.00 H675.5 A6.8,6.8 0 0 0 675.5,446.60 H688 Z" fill="#dcc59f"/>
<circle cx="675.5" cy="439.80" r="5.3" fill="#f8f4ee"/>
<path d="M688,435.50 A4.3,4.3 0 0 0 688,444.10 Z" fill="#f1e9dc"/>
<path d="M520.3,453.45 H532 A6.8,6.8 0 0 1 532,467.05 H520.3 Z" fill="#dcc59f"/>
<circle cx="532" cy="460.25" r="5.3" fill="#f8f4ee"/>
<path d="M520.3,455.95 A4.3,4.3 0 0 1 520.3,464.55 Z" fill="#f1e9dc"/>
<path d="M688,453.45 H675.5 A6.8,6.8 0 0 0 675.5,467.05 H688 Z" fill="#dcc59f"/>
<circle cx="675.5" cy="460.25" r="5.3" fill="#f8f4ee"/>
<path d="M688,455.95 A4.3,4.3 0 0 0 688,464.55 Z" fill="#f1e9dc"/>
<rect x="561.5" y="62" width="7.6" height="16" rx="3.8" fill="#d7c19c"/>
<rect x="563.3" y="64" width="4" height="12" rx="2" fill="#efe9e0"/>
<rect x="635.9000000000001" y="62" width="7.6" height="16" rx="3.8" fill="#d7c19c"/>
<rect x="637.7" y="64" width="4" height="12" rx="2" fill="#efe9e0"/>
<rect x="563.8" y="95.5" width="8.4" height="20" rx="4.2" fill="#d7c19c"/>
<rect x="565.8" y="97.5" width="4.4" height="16" rx="2.2" fill="#4a4642"/>
<rect x="633.3" y="95.5" width="8.4" height="20" rx="4.2" fill="#d7c19c"/>
<rect x="635.3" y="97.5" width="4.4" height="16" rx="2.2" fill="#4a4642"/>
<rect x="567" y="47" width="70.5" height="58" fill="#efece8"/>
<rect x="567.8" y="47" width="1.5" height="58" fill="#8f8b87"/>
<rect x="635.5" y="47" width="1.5" height="58" fill="#8f8b87"/>
<rect x="575.7" y="47" width="53.2" height="54" fill="#dcd7d3"/>
<rect x="575.2" y="47" width="0.8" height="54" fill="#c9c4bf"/><rect x="628.6" y="47" width="0.8" height="54" fill="#c9c4bf"/>
<rect x="551" y="58" width="1" height="6" fill="#d8d8d8"/>
<rect x="585" y="83" width="7" height="4.5" rx="2" fill="#f3f1ee"/>
<rect x="613" y="83" width="7" height="4.5" rx="2" fill="#f3f1ee"/>
<path d="M578.3,94 H592.5 V99 H585.2 V105.3 H578.3 Z" fill="#3c3c3c"/>
<path d="M611.5,94 H626 V105.3 H619 V99 H611.5 Z" fill="#3c3c3c"/>
<rect x="575.5" y="105.3" width="1.6" height="6" fill="#d8cfc0"/>
<rect x="574.7" y="111" width="3.2" height="4.5" rx="1" fill="#e2e2e2"/>
<rect x="580.1" y="105.3" width="1.6" height="6" fill="#d8cfc0"/>
<rect x="579.3" y="111" width="3.2" height="4.5" rx="1" fill="#e2e2e2"/>
<rect x="584.7" y="105.3" width="1.6" height="6" fill="#d8cfc0"/>
<rect x="583.9" y="111" width="3.2" height="4.5" rx="1" fill="#e2e2e2"/>
<rect x="589.3" y="105.3" width="1.6" height="6" fill="#d8cfc0"/>
<rect x="588.5" y="111" width="3.2" height="4.5" rx="1" fill="#e2e2e2"/>
<rect x="593.9" y="105.3" width="1.6" height="6" fill="#d8cfc0"/>
<rect x="593.1" y="111" width="3.2" height="4.5" rx="1" fill="#e2e2e2"/>
<rect x="598.5" y="105.3" width="1.6" height="6" fill="#d8cfc0"/>
<rect x="597.7" y="111" width="3.2" height="4.5" rx="1" fill="#e2e2e2"/>
<rect x="603.1" y="105.3" width="1.6" height="6" fill="#d8cfc0"/>
<rect x="602.3" y="111" width="3.2" height="4.5" rx="1" fill="#e2e2e2"/>
<rect x="607.7" y="105.3" width="1.6" height="6" fill="#d8cfc0"/>
<rect x="606.9" y="111" width="3.2" height="4.5" rx="1" fill="#e2e2e2"/>
<rect x="612.3" y="105.3" width="1.6" height="6" fill="#d8cfc0"/>
<rect x="611.5" y="111" width="3.2" height="4.5" rx="1" fill="#e2e2e2"/>
<rect x="616.9" y="105.3" width="1.6" height="6" fill="#d8cfc0"/>
<rect x="616.1" y="111" width="3.2" height="4.5" rx="1" fill="#e2e2e2"/>
<rect x="621.5" y="105.3" width="1.6" height="6" fill="#d8cfc0"/>
<rect x="620.7" y="111" width="3.2" height="4.5" rx="1" fill="#e2e2e2"/>
<rect x="626.1" y="105.3" width="1.6" height="6" fill="#d8cfc0"/>
<rect x="625.3" y="111" width="3.2" height="4.5" rx="1" fill="#e2e2e2"/>
<path d="M546.3,70.5 V67.5 A5.3,4.5 0 0 1 556.9,67.5 V70.5" fill="none" stroke="#e6e6e6" stroke-width="1.3"/>
<path d="M546.3,79.5 V83 H556.9 V79.5" fill="none" stroke="#e6e6e6" stroke-width="1.3"/>
<rect x="549" y="70.5" width="5" height="10" fill="#e9e6e1"/>
<text x="540.3" y="70.5" font-size="6.5" font-weight="bold" fill="#f0f0f0" font-family="Liberation Sans">1</text>
<text x="539.3" y="92.2" font-size="8" font-weight="bold" fill="#f0f0f0" font-family="Liberation Sans" textLength="23.5" lengthAdjust="spacingAndGlyphs">USER</text>
<path d="M544,99 V94 H558 V99" fill="none" stroke="#d8d8d8" stroke-width="1.1"/>
<rect x="546.5" y="95.5" width="3" height="3" fill="#cfcfcf"/><rect x="552.5" y="95.5" width="3" height="3" fill="#cfcfcf"/>
<path d="M544,106 V101 H558 V106" fill="none" stroke="#d8d8d8" stroke-width="1.1"/>
<rect x="546.5" y="102.5" width="3" height="3" fill="#cfcfcf"/><rect x="552.5" y="102.5" width="3" height="3" fill="#cfcfcf"/>
<path d="M544,113 V108 H558 V113" fill="none" stroke="#d8d8d8" stroke-width="1.1"/>
<rect x="546.5" y="109.5" width="3" height="3" fill="#cfcfcf"/><rect x="552.5" y="109.5" width="3" height="3" fill="#cfcfcf"/>
<text x="657" y="70.3" font-size="6.8" font-weight="bold" fill="#f0f0f0" font-family="Liberation Sans" textLength="9.4" lengthAdjust="spacingAndGlyphs">40</text>
<path d="M648.5,73 H663 L658.5,77 L663,81 H648.5 L653,77 Z" fill="#e4e4e4"/>
<rect x="647.5" y="81.5" width="16.5" height="24" fill="#161616"/>
<rect x="647" y="82" width="1.1" height="23" fill="#d0d0d0"/><rect x="663.5" y="82" width="1.1" height="23" fill="#d0d0d0"/>
<path d="M649,113.6 V107 L662,105.3 V113.6 Z" fill="#dedede"/>
<rect x="547.5" y="128.0" width="4" height="3" fill="#cfcfcf"/>
<rect x="587.5" y="128.0" width="4" height="3" fill="#cfcfcf"/>
<rect x="547.5" y="148.0" width="4" height="3" fill="#cfcfcf"/>
<rect x="587.5" y="148.0" width="4" height="3" fill="#cfcfcf"/>
<rect x="551.5" y="125" width="35.5" height="27.5" rx="1.5" fill="#e9e6e1"/>
<rect x="557.0" y="131" width="24.5" height="16" rx="8" fill="#f4f2ef" stroke="#cfcbc6" stroke-width="0.8"/>
<rect x="614.3" y="128.0" width="4" height="3" fill="#cfcfcf"/>
<rect x="654.3" y="128.0" width="4" height="3" fill="#cfcfcf"/>
<rect x="614.3" y="148.0" width="4" height="3" fill="#cfcfcf"/>
<rect x="654.3" y="148.0" width="4" height="3" fill="#cfcfcf"/>
<rect x="618.3" y="125" width="35.5" height="27.5" rx="1.5" fill="#e9e6e1"/>
<rect x="623.8" y="131" width="24.5" height="16" rx="8" fill="#f4f2ef" stroke="#cfcbc6" stroke-width="0.8"/>
<text x="557.5" y="162.5" font-size="8.5" font-weight="bold" fill="#f2f2f2" font-family="Liberation Sans" textLength="25.5">BOOT</text>
<text x="621.3" y="162.5" font-size="8.5" font-weight="bold" fill="#f2f2f2" font-family="Liberation Sans" textLength="30">RESET</text>
<text x="540.5" y="159" font-size="7" font-weight="bold" fill="#f0f0f0" font-family="Liberation Sans">5</text>
<text x="658.4" y="159" font-size="7" font-weight="bold" fill="#f0f0f0" font-family="Liberation Sans">36</text>
<path d="M552,171.7 H564 V166 H642 V181 H634.5 V193 H642 V209.3 H552 Z" fill="url(#sd)"/>
<rect x="636" y="183" width="6" height="9" fill="#c9c5bf"/>
<rect x="643.5" y="169" width="3.5" height="30" fill="none" stroke="#b5b1ac" stroke-width="1"/>
<circle cx="650.4" cy="207" r="4.5" fill="#d9c4a0"/><circle cx="650.4" cy="207" r="2.6" fill="#eee9e1"/>
<circle cx="555" cy="210" r="3.5" fill="#d9c4a0"/><circle cx="555" cy="210" r="2" fill="#eee9e1"/>
<path d="M560,213 V256 M648.8,222 V238 M635,212 L648.8,222" stroke="#d0d0d0" stroke-width="1.2" stroke-dasharray="1.4,1.4" fill="none"/>
<rect x="577.5" y="219" width="22.5" height="10" rx="4.5" fill="none" stroke="#ddd" stroke-width="1"/>
<rect x="584" y="221" width="9" height="6" fill="#3a3a3a"/><rect x="581.5" y="221" width="3.5" height="6" fill="#d9d6d0"/><rect x="592.5" y="221" width="3.5" height="6" fill="#d9d6d0"/>
<rect x="559.5" y="231.5" width="41" height="11.5" rx="1" fill="none" stroke="#ddd" stroke-width="1.2"/>
<rect x="561.5" y="234.5" width="4.2" height="5.5" fill="#cfcfcf"/>
<rect x="568.1" y="234.5" width="4.2" height="5.5" fill="#cfcfcf"/>
<rect x="574.7" y="234.5" width="4.2" height="5.5" fill="#cfcfcf"/>
<rect x="581.3" y="234.5" width="4.2" height="5.5" fill="#cfcfcf"/>
<rect x="587.9" y="234.5" width="4.2" height="5.5" fill="#cfcfcf"/>
<rect x="594.5" y="234.5" width="4.2" height="5.5" fill="#cfcfcf"/>
<rect x="613" y="233.5" width="33.5" height="11" fill="none" stroke="#ddd" stroke-width="1"/>
<rect x="621" y="231" width="17.7" height="14.5" fill="#d5d0c8"/>
<rect x="618.5" y="247" width="22.5" height="7" fill="none" stroke="#ddd" stroke-width="1"/>
<rect x="651" y="221" width="14" height="23" rx="1" fill="none" stroke="#ddd" stroke-width="1"/>
<rect x="654" y="223.5" width="8" height="3" fill="#cfcfcf"/><rect x="654" y="237" width="8" height="4" fill="#cfcfcf"/>
<rect x="558.00" y="256.5" width="1.3" height="3" fill="#cfcfcf"/>
<rect x="558.00" y="360.5" width="1.3" height="3" fill="#cfcfcf"/>
<rect x="560.55" y="256.5" width="1.3" height="3" fill="#cfcfcf"/>
<rect x="560.55" y="360.5" width="1.3" height="3" fill="#cfcfcf"/>
<rect x="563.10" y="256.5" width="1.3" height="3" fill="#cfcfcf"/>
<rect x="563.10" y="360.5" width="1.3" height="3" fill="#cfcfcf"/>
<rect x="565.65" y="256.5" width="1.3" height="3" fill="#cfcfcf"/>
<rect x="565.65" y="360.5" width="1.3" height="3" fill="#cfcfcf"/>
<rect x="568.20" y="256.5" width="1.3" height="3" fill="#cfcfcf"/>
<rect x="568.20" y="360.5" width="1.3" height="3" fill="#cfcfcf"/>
<rect x="570.75" y="256.5" width="1.3" height="3" fill="#cfcfcf"/>
<rect x="570.75" y="360.5" width="1.3" height="3" fill="#cfcfcf"/>
<rect x="573.30" y="256.5" width="1.3" height="3" fill="#cfcfcf"/>
<rect x="573.30" y="360.5" width="1.3" height="3" fill="#cfcfcf"/>
<rect x="575.85" y="256.5" width="1.3" height="3" fill="#cfcfcf"/>
<rect x="575.85" y="360.5" width="1.3" height="3" fill="#cfcfcf"/>
<rect x="578.40" y="256.5" width="1.3" height="3" fill="#cfcfcf"/>
<rect x="578.40" y="360.5" width="1.3" height="3" fill="#cfcfcf"/>
<rect x="580.95" y="256.5" width="1.3" height="3" fill="#cfcfcf"/>
<rect x="580.95" y="360.5" width="1.3" height="3" fill="#cfcfcf"/>
<rect x="583.50" y="256.5" width="1.3" height="3" fill="#cfcfcf"/>
<rect x="583.50" y="360.5" width="1.3" height="3" fill="#cfcfcf"/>
<rect x="586.05" y="256.5" width="1.3" height="3" fill="#cfcfcf"/>
<rect x="586.05" y="360.5" width="1.3" height="3" fill="#cfcfcf"/>
<rect x="588.60" y="256.5" width="1.3" height="3" fill="#cfcfcf"/>
<rect x="588.60" y="360.5" width="1.3" height="3" fill="#cfcfcf"/>
<rect x="591.15" y="256.5" width="1.3" height="3" fill="#cfcfcf"/>
<rect x="591.15" y="360.5" width="1.3" height="3" fill="#cfcfcf"/>
<rect x="593.70" y="256.5" width="1.3" height="3" fill="#cfcfcf"/>
<rect x="593.70" y="360.5" width="1.3" height="3" fill="#cfcfcf"/>
<rect x="596.25" y="256.5" width="1.3" height="3" fill="#cfcfcf"/>
<rect x="596.25" y="360.5" width="1.3" height="3" fill="#cfcfcf"/>
<rect x="598.80" y="256.5" width="1.3" height="3" fill="#cfcfcf"/>
<rect x="598.80" y="360.5" width="1.3" height="3" fill="#cfcfcf"/>
<rect x="601.35" y="256.5" width="1.3" height="3" fill="#cfcfcf"/>
<rect x="601.35" y="360.5" width="1.3" height="3" fill="#cfcfcf"/>
<rect x="603.90" y="256.5" width="1.3" height="3" fill="#cfcfcf"/>
<rect x="603.90" y="360.5" width="1.3" height="3" fill="#cfcfcf"/>
<rect x="606.45" y="256.5" width="1.3" height="3" fill="#cfcfcf"/>
<rect x="606.45" y="360.5" width="1.3" height="3" fill="#cfcfcf"/>
<rect x="609.00" y="256.5" width="1.3" height="3" fill="#cfcfcf"/>
<rect x="609.00" y="360.5" width="1.3" height="3" fill="#cfcfcf"/>
<rect x="611.55" y="256.5" width="1.3" height="3" fill="#cfcfcf"/>
<rect x="611.55" y="360.5" width="1.3" height="3" fill="#cfcfcf"/>
<rect x="614.10" y="256.5" width="1.3" height="3" fill="#cfcfcf"/>
<rect x="614.10" y="360.5" width="1.3" height="3" fill="#cfcfcf"/>
<rect x="616.65" y="256.5" width="1.3" height="3" fill="#cfcfcf"/>
<rect x="616.65" y="360.5" width="1.3" height="3" fill="#cfcfcf"/>
<rect x="619.20" y="256.5" width="1.3" height="3" fill="#cfcfcf"/>
<rect x="619.20" y="360.5" width="1.3" height="3" fill="#cfcfcf"/>
<rect x="621.75" y="256.5" width="1.3" height="3" fill="#cfcfcf"/>
<rect x="621.75" y="360.5" width="1.3" height="3" fill="#cfcfcf"/>
<rect x="624.30" y="256.5" width="1.3" height="3" fill="#cfcfcf"/>
<rect x="624.30" y="360.5" width="1.3" height="3" fill="#cfcfcf"/>
<rect x="626.85" y="256.5" width="1.3" height="3" fill="#cfcfcf"/>
<rect x="626.85" y="360.5" width="1.3" height="3" fill="#cfcfcf"/>
<rect x="629.40" y="256.5" width="1.3" height="3" fill="#cfcfcf"/>
<rect x="629.40" y="360.5" width="1.3" height="3" fill="#cfcfcf"/>
<rect x="631.95" y="256.5" width="1.3" height="3" fill="#cfcfcf"/>
<rect x="631.95" y="360.5" width="1.3" height="3" fill="#cfcfcf"/>
<rect x="634.50" y="256.5" width="1.3" height="3" fill="#cfcfcf"/>
<rect x="634.50" y="360.5" width="1.3" height="3" fill="#cfcfcf"/>
<rect x="637.05" y="256.5" width="1.3" height="3" fill="#cfcfcf"/>
<rect x="637.05" y="360.5" width="1.3" height="3" fill="#cfcfcf"/>
<rect x="639.60" y="256.5" width="1.3" height="3" fill="#cfcfcf"/>
<rect x="639.60" y="360.5" width="1.3" height="3" fill="#cfcfcf"/>
<rect x="642.15" y="256.5" width="1.3" height="3" fill="#cfcfcf"/>
<rect x="642.15" y="360.5" width="1.3" height="3" fill="#cfcfcf"/>
<rect x="644.70" y="256.5" width="1.3" height="3" fill="#cfcfcf"/>
<rect x="644.70" y="360.5" width="1.3" height="3" fill="#cfcfcf"/>
<rect x="647.25" y="256.5" width="1.3" height="3" fill="#cfcfcf"/>
<rect x="647.25" y="360.5" width="1.3" height="3" fill="#cfcfcf"/>
<rect x="549.5" y="266.00" width="3" height="1.3" fill="#cfcfcf"/>
<rect x="652.5" y="266.00" width="3" height="1.3" fill="#cfcfcf"/>
<rect x="549.5" y="268.55" width="3" height="1.3" fill="#cfcfcf"/>
<rect x="652.5" y="268.55" width="3" height="1.3" fill="#cfcfcf"/>
<rect x="549.5" y="271.10" width="3" height="1.3" fill="#cfcfcf"/>
<rect x="652.5" y="271.10" width="3" height="1.3" fill="#cfcfcf"/>
<rect x="549.5" y="273.65" width="3" height="1.3" fill="#cfcfcf"/>
<rect x="652.5" y="273.65" width="3" height="1.3" fill="#cfcfcf"/>
<rect x="549.5" y="276.20" width="3" height="1.3" fill="#cfcfcf"/>
<rect x="652.5" y="276.20" width="3" height="1.3" fill="#cfcfcf"/>
<rect x="549.5" y="278.75" width="3" height="1.3" fill="#cfcfcf"/>
<rect x="652.5" y="278.75" width="3" height="1.3" fill="#cfcfcf"/>
<rect x="549.5" y="281.30" width="3" height="1.3" fill="#cfcfcf"/>
<rect x="652.5" y="281.30" width="3" height="1.3" fill="#cfcfcf"/>
<rect x="549.5" y="283.85" width="3" height="1.3" fill="#cfcfcf"/>
<rect x="652.5" y="283.85" width="3" height="1.3" fill="#cfcfcf"/>
<rect x="549.5" y="286.40" width="3" height="1.3" fill="#cfcfcf"/>
<rect x="652.5" y="286.40" width="3" height="1.3" fill="#cfcfcf"/>
<rect x="549.5" y="288.95" width="3" height="1.3" fill="#cfcfcf"/>
<rect x="652.5" y="288.95" width="3" height="1.3" fill="#cfcfcf"/>
<rect x="549.5" y="291.50" width="3" height="1.3" fill="#cfcfcf"/>
<rect x="652.5" y="291.50" width="3" height="1.3" fill="#cfcfcf"/>
<rect x="549.5" y="294.05" width="3" height="1.3" fill="#cfcfcf"/>
<rect x="652.5" y="294.05" width="3" height="1.3" fill="#cfcfcf"/>
<rect x="549.5" y="296.60" width="3" height="1.3" fill="#cfcfcf"/>
<rect x="652.5" y="296.60" width="3" height="1.3" fill="#cfcfcf"/>
<rect x="549.5" y="299.15" width="3" height="1.3" fill="#cfcfcf"/>
<rect x="652.5" y="299.15" width="3" height="1.3" fill="#cfcfcf"/>
<rect x="549.5" y="301.70" width="3" height="1.3" fill="#cfcfcf"/>
<rect x="652.5" y="301.70" width="3" height="1.3" fill="#cfcfcf"/>
<rect x="549.5" y="304.25" width="3" height="1.3" fill="#cfcfcf"/>
<rect x="652.5" y="304.25" width="3" height="1.3" fill="#cfcfcf"/>
<rect x="549.5" y="306.80" width="3" height="1.3" fill="#cfcfcf"/>
<rect x="652.5" y="306.80" width="3" height="1.3" fill="#cfcfcf"/>
<rect x="549.5" y="309.35" width="3" height="1.3" fill="#cfcfcf"/>
<rect x="652.5" y="309.35" width="3" height="1.3" fill="#cfcfcf"/>
<rect x="549.5" y="311.90" width="3" height="1.3" fill="#cfcfcf"/>
<rect x="652.5" y="311.90" width="3" height="1.3" fill="#cfcfcf"/>
<rect x="549.5" y="314.45" width="3" height="1.3" fill="#cfcfcf"/>
<rect x="652.5" y="314.45" width="3" height="1.3" fill="#cfcfcf"/>
<rect x="549.5" y="317.00" width="3" height="1.3" fill="#cfcfcf"/>
<rect x="652.5" y="317.00" width="3" height="1.3" fill="#cfcfcf"/>
<rect x="549.5" y="319.55" width="3" height="1.3" fill="#cfcfcf"/>
<rect x="652.5" y="319.55" width="3" height="1.3" fill="#cfcfcf"/>
<rect x="549.5" y="322.10" width="3" height="1.3" fill="#cfcfcf"/>
<rect x="652.5" y="322.10" width="3" height="1.3" fill="#cfcfcf"/>
<rect x="549.5" y="324.65" width="3" height="1.3" fill="#cfcfcf"/>
<rect x="652.5" y="324.65" width="3" height="1.3" fill="#cfcfcf"/>
<rect x="549.5" y="327.20" width="3" height="1.3" fill="#cfcfcf"/>
<rect x="652.5" y="327.20" width="3" height="1.3" fill="#cfcfcf"/>
<rect x="549.5" y="329.75" width="3" height="1.3" fill="#cfcfcf"/>
<rect x="652.5" y="329.75" width="3" height="1.3" fill="#cfcfcf"/>
<rect x="549.5" y="332.30" width="3" height="1.3" fill="#cfcfcf"/>
<rect x="652.5" y="332.30" width="3" height="1.3" fill="#cfcfcf"/>
<rect x="549.5" y="334.85" width="3" height="1.3" fill="#cfcfcf"/>
<rect x="652.5" y="334.85" width="3" height="1.3" fill="#cfcfcf"/>
<rect x="549.5" y="337.40" width="3" height="1.3" fill="#cfcfcf"/>
<rect x="652.5" y="337.40" width="3" height="1.3" fill="#cfcfcf"/>
<rect x="549.5" y="339.95" width="3" height="1.3" fill="#cfcfcf"/>
<rect x="652.5" y="339.95" width="3" height="1.3" fill="#cfcfcf"/>
<rect x="549.5" y="342.50" width="3" height="1.3" fill="#cfcfcf"/>
<rect x="652.5" y="342.50" width="3" height="1.3" fill="#cfcfcf"/>
<rect x="549.5" y="345.05" width="3" height="1.3" fill="#cfcfcf"/>
<rect x="652.5" y="345.05" width="3" height="1.3" fill="#cfcfcf"/>
<rect x="549.5" y="347.60" width="3" height="1.3" fill="#cfcfcf"/>
<rect x="652.5" y="347.60" width="3" height="1.3" fill="#cfcfcf"/>
<rect x="549.5" y="350.15" width="3" height="1.3" fill="#cfcfcf"/>
<rect x="652.5" y="350.15" width="3" height="1.3" fill="#cfcfcf"/>
<rect x="549.5" y="352.70" width="3" height="1.3" fill="#cfcfcf"/>
<rect x="652.5" y="352.70" width="3" height="1.3" fill="#cfcfcf"/>
<rect x="549.5" y="355.25" width="3" height="1.3" fill="#cfcfcf"/>
<rect x="652.5" y="355.25" width="3" height="1.3" fill="#cfcfcf"/>
<rect x="553.5" y="261.2" width="97.8" height="97.6" fill="#2e2e2e"/>
<text x="561.5" y="287.3" font-size="17" font-weight="bold" font-style="italic" fill="#676767" font-family="Liberation Sans" textLength="80" lengthAdjust="spacingAndGlyphs">Rockchip</text>
<text x="561.5" y="305.9" font-size="10" fill="#585858" font-family="Liberation Sans" textLength="50">RV1106G2</text>
<text x="561.5" y="321" font-size="10" fill="#585858" font-family="Liberation Sans" textLength="80">HBATK2T06U 2230</text>
<text x="561.5" y="336.2" font-size="10" fill="#585858" font-family="Liberation Sans" textLength="57.5">13N0201 000</text>
<circle cx="563.3" cy="347" r="3.2" fill="#474747"/>
<text x="542" y="259" font-size="7" font-weight="bold" fill="#f0f0f0" font-family="Liberation Sans">10</text>
<text x="657" y="259" font-size="7" font-weight="bold" fill="#f0f0f0" font-family="Liberation Sans">31</text>
<text x="542" y="361" font-size="7" font-weight="bold" fill="#f0f0f0" font-family="Liberation Sans">15</text>
<text x="657" y="361" font-size="7" font-weight="bold" fill="#f0f0f0" font-family="Liberation Sans">26</text>
<rect x="548" y="366" width="23" height="13" fill="none" stroke="#ddd" stroke-width="1.2"/>
<rect x="551" y="369" width="4" height="7" fill="#ccc"/><rect x="558" y="369" width="4" height="7" fill="#ccc"/><rect x="564" y="369" width="4" height="7" fill="#ccc"/>
<rect x="576" y="366" width="80" height="12" fill="none" stroke="#ddd" stroke-width="1.2"/>
<rect x="606" y="368" width="14" height="8" fill="#d5d0c8"/>
<rect x="579.0" y="369" width="2" height="6" fill="#ccc"/>
<rect x="582.5" y="369" width="2" height="6" fill="#ccc"/>
<rect x="586.0" y="369" width="2" height="6" fill="#ccc"/>
<rect x="589.5" y="369" width="2" height="6" fill="#ccc"/>
<rect x="593.0" y="369" width="2" height="6" fill="#ccc"/>
<rect x="596.5" y="369" width="2" height="6" fill="#ccc"/>
<rect x="600.0" y="369" width="2" height="6" fill="#ccc"/>
<rect x="625.0" y="369" width="2.5" height="6" fill="#ccc"/>
<rect x="629.5" y="369" width="2.5" height="6" fill="#ccc"/>
<rect x="634.0" y="369" width="2.5" height="6" fill="#ccc"/>
<rect x="638.5" y="369" width="2.5" height="6" fill="#ccc"/>
<rect x="643.0" y="369" width="2.5" height="6" fill="#ccc"/>
<rect x="647.5" y="369" width="2.5" height="6" fill="#ccc"/>
<rect x="555" y="386" width="14" height="7" fill="#3a3a3a"/><rect x="549" y="386" width="4" height="7" fill="#ddd"/><rect x="571" y="386" width="4" height="7" fill="#ddd"/>
<rect x="549" y="397" width="6" height="6" fill="#ddd"/>
<rect x="549" y="405" width="7" height="9" fill="#3a3a3a"/>
<rect x="549" y="417" width="6" height="6" fill="#ddd"/>
<text x="589" y="389" font-size="7" font-weight="bold" fill="#eee" font-family="Liberation Sans">+</text>
<rect x="597" y="381" width="3" height="10" fill="#ccc"/><rect x="606" y="381" width="3" height="10" fill="#ccc"/>
<text x="612" y="389" font-size="7" font-weight="bold" fill="#eee" font-family="Liberation Sans">-</text>
<text x="638" y="389.5" font-size="8.5" font-weight="bold" fill="#f2f2f2" font-family="Liberation Sans" textLength="19.5">RTC</text>
<text x="631.5" y="397.5" font-size="8.5" font-weight="bold" fill="#f2f2f2" font-family="Liberation Sans" textLength="32">Battery</text>
<rect x="570.5" y="398" width="64.5" height="28" fill="#e3ddd3"/>
<rect x="585" y="393" width="38" height="33" fill="#ebe6dd"/>
<rect x="589" y="403" width="30" height="20" rx="3" fill="#e6d6bd"/>
<rect x="574" y="409" width="7" height="14" fill="#b6aea3"/>
<rect x="624" y="409" width="7" height="14" fill="#b6aea3"/>
<circle cx="598" cy="417" r="1.5" fill="#8a7e6c"/><circle cx="610" cy="417" r="1.5" fill="#8a7e6c"/>
<rect x="568.0" y="430" width="3" height="6" fill="#d9d9d9"/>
<rect x="575.9" y="430" width="3" height="6" fill="#d9d9d9"/>
<rect x="583.8" y="430" width="3" height="6" fill="#d9d9d9"/>
<rect x="591.7" y="430" width="3" height="6" fill="#d9d9d9"/>
<rect x="599.6" y="430" width="3" height="6" fill="#d9d9d9"/>
<rect x="607.5" y="430" width="3" height="6" fill="#d9d9d9"/>
<rect x="615.4" y="430" width="3" height="6" fill="#d9d9d9"/>
<rect x="623.3" y="430" width="3" height="6" fill="#d9d9d9"/>
<rect x="631.2" y="430" width="3" height="6" fill="#d9d9d9"/>
<rect x="639.1" y="430" width="3" height="6" fill="#d9d9d9"/>
<rect x="647.0" y="430" width="3" height="6" fill="#d9d9d9"/>
<rect x="539.4" y="435.8" width="127.2" height="18" rx="1" fill="#3a3a3a"/>
<rect x="540.5" y="446.5" width="125" height="6.5" fill="#4d4d4d"/>
<rect x="539.4" y="435.8" width="127.2" height="1.2" fill="#777"/>
<rect x="559.6" y="437.5" width="87.4" height="7.5" fill="#dedbd6"/>
<rect x="561.0" y="442" width="1.5" height="3" fill="#6b655c"/>
<rect x="563.9" y="442" width="1.5" height="3" fill="#6b655c"/>
<rect x="566.8" y="442" width="1.5" height="3" fill="#6b655c"/>
<rect x="569.7" y="442" width="1.5" height="3" fill="#6b655c"/>
<rect x="572.6" y="442" width="1.5" height="3" fill="#6b655c"/>
<rect x="575.5" y="442" width="1.5" height="3" fill="#6b655c"/>
<rect x="578.4" y="442" width="1.5" height="3" fill="#6b655c"/>
<rect x="581.3" y="442" width="1.5" height="3" fill="#6b655c"/>
<rect x="584.2" y="442" width="1.5" height="3" fill="#6b655c"/>
<rect x="587.1" y="442" width="1.5" height="3" fill="#6b655c"/>
<rect x="590.0" y="442" width="1.5" height="3" fill="#6b655c"/>
<rect x="592.9" y="442" width="1.5" height="3" fill="#6b655c"/>
<rect x="595.8" y="442" width="1.5" height="3" fill="#6b655c"/>
<rect x="598.7" y="442" width="1.5" height="3" fill="#6b655c"/>
<rect x="601.6" y="442" width="1.5" height="3" fill="#6b655c"/>
<rect x="604.5" y="442" width="1.5" height="3" fill="#6b655c"/>
<rect x="607.4" y="442" width="1.5" height="3" fill="#6b655c"/>
<rect x="610.3" y="442" width="1.5" height="3" fill="#6b655c"/>
<rect x="613.2" y="442" width="1.5" height="3" fill="#6b655c"/>
<rect x="616.1" y="442" width="1.5" height="3" fill="#6b655c"/>
<rect x="619.0" y="442" width="1.5" height="3" fill="#6b655c"/>
<rect x="621.9" y="442" width="1.5" height="3" fill="#6b655c"/>
<rect x="624.8" y="442" width="1.5" height="3" fill="#6b655c"/>
<rect x="627.7" y="442" width="1.5" height="3" fill="#6b655c"/>
<rect x="630.6" y="442" width="1.5" height="3" fill="#6b655c"/>
<rect x="633.5" y="442" width="1.5" height="3" fill="#6b655c"/>
<rect x="636.4" y="442" width="1.5" height="3" fill="#6b655c"/>
<rect x="639.3" y="442" width="1.5" height="3" fill="#6b655c"/>
<rect x="642.2" y="442" width="1.5" height="3" fill="#6b655c"/>
<rect x="645.1" y="442" width="1.5" height="3" fill="#6b655c"/>
<path d="M557,454 L562,460 H645 L650,454" fill="none" stroke="#ddd" stroke-width="1"/>
<rect x="564.0" y="455" width="4" height="3" fill="#bbb"/>
<rect x="571.5" y="455" width="4" height="3" fill="#bbb"/>
<rect x="579.0" y="455" width="4" height="3" fill="#bbb"/>
<rect x="586.5" y="455" width="4" height="3" fill="#bbb"/>
<rect x="594.0" y="455" width="4" height="3" fill="#bbb"/>
<rect x="601.5" y="455" width="4" height="3" fill="#bbb"/>
<rect x="609.0" y="455" width="4" height="3" fill="#bbb"/>
<rect x="616.5" y="455" width="4" height="3" fill="#bbb"/>
<rect x="624.0" y="455" width="4" height="3" fill="#bbb"/>
<rect x="631.5" y="455" width="4" height="3" fill="#bbb"/>
<rect x="639.0" y="455" width="4" height="3" fill="#bbb"/>
<text x="540" y="463.5" font-size="7" font-weight="bold" fill="#f0f0f0" font-family="Liberation Sans">20</text>
<text x="658.6" y="463.5" font-size="7" font-weight="bold" fill="#f0f0f0" font-family="Liberation Sans">21</text>
<circle cx="535" cy="534" r="6" fill="#d9c7aa"/><circle cx="536" cy="534" r="3.5" fill="#efe8de"/>
<circle cx="672" cy="534" r="6" fill="#d9c7aa"/><circle cx="671" cy="534" r="3.5" fill="#efe8de"/>
<circle cx="531" cy="607" r="5.5" fill="#d9c7aa"/><circle cx="531" cy="607" r="3.5" fill="#f3efe9"/>
<circle cx="531" cy="627" r="5.5" fill="#d9c7aa"/><circle cx="531" cy="627" r="3.5" fill="#f3efe9"/>
<circle cx="676" cy="607" r="5.5" fill="#d9c7aa"/><circle cx="676" cy="607" r="3.5" fill="#f3efe9"/>
<circle cx="676" cy="627" r="5.5" fill="#d9c7aa"/><circle cx="676" cy="627" r="3.5" fill="#f3efe9"/>
<rect x="534.8" y="476" width="2" height="116" fill="#0b0909"/>
<path d="M536.6,476 H669.5 V592 H667.5 V652 H540.5 V592 H536.6 Z" fill="url(#eth)"/>
<rect x="536.6" y="476" width="133" height="2" fill="#e6e3df"/>
<rect x="552" y="478" width="44" height="3" rx="1.5" fill="#6d6864"/>
<rect x="610" y="478" width="44" height="3" rx="1.5" fill="#6d6864"/>
<rect x="663.5" y="478" width="1.2" height="114" fill="#bdb9b5"/>
<rect x="537" y="478" width="1.2" height="114" fill="#ecebe8"/>
<rect x="536.6" y="591" width="4" height="1" fill="#9a9692"/><rect x="667.5" y="591" width="2" height="1" fill="#9a9692"/>
</svg>
<div class="lg">
<div class="sw" style="left:34.5px;top:21px;background:#ee8c55"></div><div class="lt" style="left:62px;top:21px;color:#ee8c55">PWM</div>
<div class="sw" style="left:141.8px;top:21px;background:#0d66d0"></div><div class="lt" style="left:169px;top:21px;color:#2462b9">I2C</div>
<div class="sw" style="left:248.8px;top:21px;background:#d8399a"></div><div class="lt" style="left:276px;top:21px;color:#c63a92">SPI</div>
<div class="sw" style="left:34.5px;top:56px;background:#a18bd2"></div><div class="lt" style="left:62px;top:56px;color:#a18bd2">UART</div>
<div class="sw" style="left:141.8px;top:56px;background:#3b7e2a"></div><div class="lt" style="left:169px;top:56px;color:#666">SARADC</div>
<div class="sw" style="left:248.8px;top:56px;background:#f9a6ab"></div><div class="lt" style="left:276px;top:56px;color:#f2a9b0;letter-spacing:0.5px">System Control</div>
</div>
</body></html>
